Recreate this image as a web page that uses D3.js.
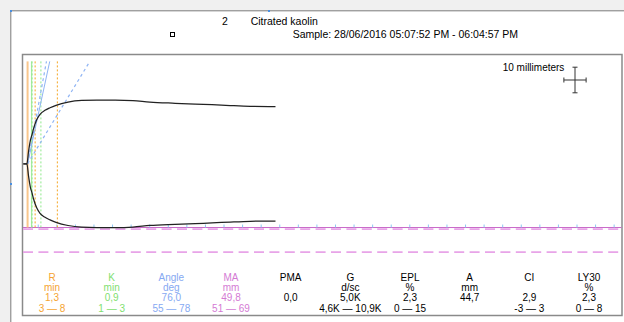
<!DOCTYPE html>
<html><head><meta charset="utf-8">
<script src="https://cdn.jsdelivr.net/npm/d3@7"></script>
<style>
html,body{margin:0;padding:0;background:#f0f0f0;overflow:hidden;}
svg{display:block;font-family:"Liberation Sans",Arial,sans-serif;}
</style></head><body>
<svg id="chart" width="624" height="322"></svg>
<script>
// ---- sample header ----
const sampleChannel = "2";
const sampleName = "Citrated kaolin";
const sampleTime = "Sample: 28/06/2016 05:07:52 PM - 06:04:57 PM";
const scaleLabel = "10 millimeters";

// ---- TEG tracing: time (min) vs amplitude (mm) ----
const traceTime = [0.34, 1.15, 1.51, 1.96, 2.30, 2.63, 3.35, 4.10, 5.22, 6.35, 7.70, 10.4, 13.5, 16.9, 21.0, 25.0, 28.8, 34.5, 39.0, 42.8, 46.9, 51.4, 57.08];
const traceAmp  = [0, 0, 9.4, 18.8, 22.7, 27.3, 34.4, 38.7, 41.8, 43.8, 45.7, 48.2, 49.5, 49.8, 49.8, 49.4, 48.2, 47.3, 46.7, 46.2, 45.5, 44.9, 44.7];

// ---- result parameters ----
const paramNames  = ["R", "K", "Angle", "MA", "PMA", "G", "EPL", "A", "CI", "LY30"];
const paramUnits  = ["min", "min", "deg", "mm", "", "d/sc", "%", "mm", "", "%"];
const paramValues = [1.3, 0.9, 76.0, 49.8, 0.0, 5.0, 2.3, 44.7, 2.9, 2.3];
const paramSuffix = ["", "", "", "", "", "K", "", "", "", ""];
const paramLow    = [3, 1, 55, 51, null, 4.6, 0, null, -3, 0];
const paramHigh   = [8, 3, 78, 69, null, 10.9, 15, null, 3, 8];
const paramColors = ["#f5a433", "#7fe070", "#86a9f2", "#d47ad4", "#000", "#000", "#000", "#000", "#000", "#000"];

// time ticks along the MA line (min)
const tickStart = 3.7, tickStep = 4.18;

const svg = d3.select("#chart");
const fmt = v => d3.format(".1f")(v).replace(".", ",");

// ---- scales ----
const x = d3.scaleLinear().domain([0, 135]).range([21.8, 621.8]);      // minutes
const y = d3.scaleLinear().domain([-40, 40]).range([266.2, 61.4]);     // half amplitude, mm
const colX = d3.scalePoint().domain(paramNames).range([52, 589]);

const val = name => paramValues[paramNames.indexOf(name)];
const R = val("R"), K = val("K"), ANG = val("Angle"), MA = val("MA");
const lo = name => paramLow[paramNames.indexOf(name)];
const hi = name => paramHigh[paramNames.indexOf(name)];

// ---- window frame ----
svg.append("rect").attr("width", 624).attr("height", 322).attr("fill", "#f0f0f0");
svg.append("rect").attr("x", 11).attr("y", 11).attr("width", 613).attr("height", 311).attr("fill", "#fff");
svg.append("path").attr("d", "M10.5,322V10.5H624").attr("fill", "none").attr("stroke", "#a0a0a0");
svg.append("path").attr("d", "M11.5,322V11.5H624").attr("fill", "none").attr("stroke", "#d6d6d6");
[[10, 10], [10, 183], [268, 10]].forEach(([hx, hy]) =>
  svg.append("rect").attr("x", hx).attr("y", hy).attr("width", 2).attr("height", 2).attr("fill", "#4a90e2"));

// ---- header ----
svg.append("text").attr("x", 224.8).attr("y", 24.5).attr("text-anchor", "middle")
  .attr("font-size", 10.5).attr("fill", "#000").text(sampleChannel);
svg.append("text").attr("x", 250.7).attr("y", 24.5).attr("font-size", 10.5).attr("fill", "#000").text(sampleName);
svg.append("text").attr("x", 292.7).attr("y", 37.5).attr("font-size", 10.5).attr("fill", "#000").text(sampleTime);
svg.append("rect").attr("x", 170.5).attr("y", 32.5).attr("width", 4).attr("height", 4)
  .attr("fill", "none").attr("stroke", "#000");

// ---- chart box ----
svg.append("rect").attr("x", 22.5).attr("y", 54.5).attr("width", 599.5).attr("height", 261)
  .attr("fill", "#fff").attr("stroke", "#8a8a8a").attr("stroke-width", 1.5);

// ---- MA value line and MA reference limits ----
svg.append("line").attr("x1", 23).attr("x2", 621.5).attr("y1", y(-MA / 2)).attr("y2", y(-MA / 2))
  .attr("stroke", "#c868c8").attr("stroke-width", 1);
[lo("MA"), hi("MA")].forEach(m =>
  svg.append("line").attr("x1", 23).attr("x2", 621.5).attr("y1", y(-m / 2)).attr("y2", y(-m / 2))
    .attr("stroke", "#e8a4e8").attr("stroke-width", 1.6).attr("stroke-dasharray", "10,5.4"));

// time ticks
svg.append("g").selectAll("line").data(d3.range(tickStart, 135, tickStep)).join("line")
  .attr("x1", d => x(d)).attr("x2", d => x(d))
  .attr("y1", y(-MA / 2) - 3).attr("y2", y(-MA / 2))
  .attr("stroke", "#8cc6f2").attr("stroke-width", 1);

// ---- R / K markers ----
const vTop = y(40), vBot = y(-MA / 2);
function vline(t, color, w, dash) {
  const l = svg.append("line").attr("x1", x(t)).attr("x2", x(t)).attr("y1", vTop).attr("y2", vBot)
    .attr("stroke", color).attr("stroke-width", w);
  if (dash) l.attr("stroke-dasharray", dash);
}
vline(R, "#f9c68c", 2);
vline(R + K, "#a8eca2", 1.3);
vline(lo("R"), "#f5a623", 1, "2,2");
vline(hi("R"), "#f5a623", 1, "2,2");
vline(R + lo("K"), "#8ee88a", 1, "2,2");
vline(R + hi("K"), "#8ee88a", 1, "2,2");

// ---- angle lines: time at 2 mm/min vs half amplitude in mm ----
function angleLine(deg, dash, w) {
  const dt = 40 / (2 * Math.tan(deg * Math.PI / 180));
  const l = svg.append("line").attr("x1", x(R)).attr("y1", y(0)).attr("x2", x(R + dt)).attr("y2", y(40))
    .attr("stroke", "#8fb4f4").attr("stroke-width", w);
  if (dash) l.attr("stroke-dasharray", dash);
}
angleLine(lo("Angle"), "3,3", 1.2);
angleLine(hi("Angle"), "3,3", 1.2);
angleLine(ANG, null, 1);

// ---- tracing ----
const pts = traceTime.map((t, i) => [t, traceAmp[i]]);
const up = d3.line().x(d => x(d[0])).y(d => y(d[1] / 2)).curve(d3.curveMonotoneX);
const dn = d3.line().x(d => x(d[0])).y(d => y(-d[1] / 2)).curve(d3.curveMonotoneX);
svg.append("path").attr("d", up(pts)).attr("fill", "none").attr("stroke", "#222").attr("stroke-width", 1.25);
svg.append("path").attr("d", dn(pts)).attr("fill", "none").attr("stroke", "#222").attr("stroke-width", 1.25);

// ---- 10 mm scale cross ----
const cx = 575, cy = 80;
const hx = (x(5) - x(0)) / 2;          // 10 mm along time = 5 min
const hy = (y(0) - y(10)) / 2;         // 10 mm of amplitude
svg.append("text").attr("x", 502.7).attr("y", 70.5).attr("font-size", 10).attr("fill", "#000").text(scaleLabel);
svg.append("path")
  .attr("d", `M${cx - hx},${cy}H${cx + hx}M${cx},${cy - hy}V${cy + hy}` +
             `M${cx - hx},${cy - 2.5}V${cy + 2.5}M${cx + hx},${cy - 2.5}V${cy + 2.5}` +
             `M${cx - 2.5},${cy - hy}H${cx + 2.5}M${cx - 2.5},${cy + hy}H${cx + 2.5}`)
  .attr("fill", "none").attr("stroke", "#333").attr("stroke-width", 1);

// ---- parameter table ----
const rowY = [280.5, 290.8, 301.2, 311.5];
const table = svg.append("g").attr("font-size", 10).attr("text-anchor", "middle");
paramNames.forEach((n, i) => {
  const g = table.append("g").attr("fill", paramColors[i]);
  const cxp = colX(n);
  g.append("text").attr("x", cxp).attr("y", rowY[0]).text(n);
  if (paramUnits[i]) g.append("text").attr("x", cxp).attr("y", rowY[1]).text(paramUnits[i]);
  g.append("text").attr("x", cxp).attr("y", rowY[2]).text(fmt(paramValues[i]) + paramSuffix[i]);
  if (paramLow[i] !== null) {
    const f = paramSuffix[i] ? v => fmt(v) + paramSuffix[i] : v => String(v);
    g.append("text").attr("x", cxp).attr("y", rowY[3]).text(f(paramLow[i]) + " \u2014 " + f(paramHigh[i]));
  }
});
</script>
</body></html>
